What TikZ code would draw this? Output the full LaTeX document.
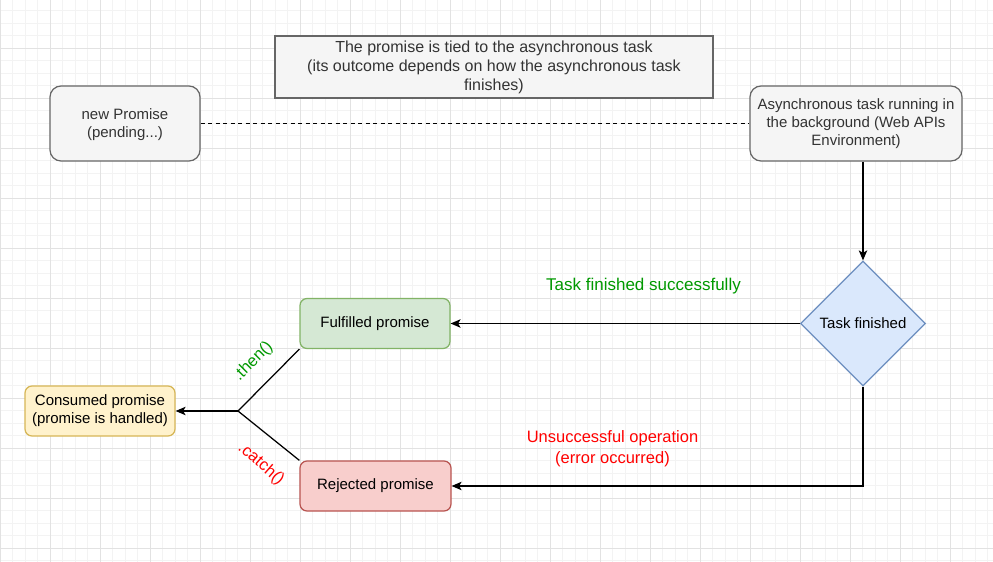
\documentclass[tikz,border=0pt]{standalone}
\usepackage{fontspec}
\setmainfont{Liberation Sans}
\usetikzlibrary{arrows.meta,shapes.geometric}
\definecolor{gbord}{HTML}{666666}
\definecolor{gfill}{HTML}{F5F5F5}
\definecolor{gtext}{HTML}{333333}
\definecolor{bfill}{HTML}{DAE8FC}
\definecolor{bbord}{HTML}{6C8EBF}
\definecolor{grfill}{HTML}{D5E8D4}
\definecolor{grbord}{HTML}{82B366}
\definecolor{rfill}{HTML}{F8CECC}
\definecolor{rbord}{HTML}{B85450}
\definecolor{yfill}{HTML}{FFF2CC}
\definecolor{ybord}{HTML}{D6B656}
\definecolor{okgreen}{HTML}{009900}
\definecolor{errred}{HTML}{FF0000}
\definecolor{minorgrid}{HTML}{F3F3F3}
\definecolor{majorgrid}{HTML}{E2E2E2}
\tikzset{
  basebox/.style={line width=1.25pt, align=center, inner sep=0pt,
    font=\fontsize{15}{18}\selectfont},
  graybox/.style={basebox, draw=gbord, fill=gfill, text=gtext, rounded corners=11pt},
  notebox/.style={basebox, draw=gbord, fill=gfill, text=gtext,
    font=\fontsize{16}{19}\selectfont},
  greenbox/.style={basebox, draw=grbord, fill=grfill, text=black, rounded corners=7pt},
  redbox/.style={basebox, draw=rbord, fill=rfill, text=black, rounded corners=7pt},
  yellowbox/.style={basebox, draw=ybord, fill=yfill, text=black, rounded corners=7pt},
  decision/.style={basebox, diamond, aspect=1, draw=bbord, fill=bfill, text=black},
  conn/.style={line width=1.25pt, draw=black},
  edge/.style={conn, -{Stealth[length=10pt,width=8.5pt,inset=2.5pt]}},
  lbl/.style={align=center, inner sep=0pt}
}
\begin{document}
\begin{tikzpicture}[x=1pt,y=-1pt]
\useasboundingbox (0,0) rectangle (993,562);
\fill[white] (0,0) rectangle (993,562);
% grid
\foreach \i in {0,...,80} {\draw[minorgrid, line width=0.7pt] (\i*12.5,0) -- (\i*12.5,562);}
\foreach \j in {0,...,46} {\draw[minorgrid, line width=0.7pt] (0,-1.7+\j*12.5) -- (993,-1.7+\j*12.5);}
\foreach \i in {0,...,20} {\draw[majorgrid, line width=0.7pt] (\i*50,0) -- (\i*50,562);}
\foreach \j in {0,...,12} {\draw[majorgrid, line width=0.7pt] (0,-1.7+\j*50) -- (993,-1.7+\j*50);}

% nodes
\node[notebox, minimum width=438pt, minimum height=62pt] (note) at (494,67)
  {The promise is tied to the asynchronous task\\(its outcome depends on how the asynchronous task\\finishes)};
\node[graybox, minimum width=150pt, minimum height=75pt] (np) at (125,123.5)
  {\strut new Promise\\(pending...)};
\node[graybox, minimum width=212pt, minimum height=75pt] (async) at (856,123.5)
  {Asynchronous task running in\\the background (Web APIs\\Environment)};
\node[decision, minimum width=125pt, minimum height=125pt] (dia) at (863,323.5) {Task finished};
\node[greenbox, minimum width=150pt, minimum height=50pt] (ful) at (375,323.5) {Fulfilled promise};
\node[redbox, minimum width=151pt, minimum height=50pt] (rej) at (375.5,486) {Rejected promise};
\node[yellowbox, minimum width=150pt, minimum height=50pt] (con) at (100,411) {Consumed promise\\(promise is handled)};
\coordinate (br) at (238,411);

% connectors
\draw[conn, dash pattern=on 4pt off 3.5pt] (np.east) -- (async.west);
\draw[edge] (dia.north |- async.south) -- (dia.north);
\draw[edge] (dia.west) -- (ful.east);
\draw[edge] (dia.south) |- (rej.east);
\draw[conn] (br) -- (ful.south west);
\draw[conn] (br) -- (rej.north west);
\draw[edge] (br) -- (con.east);

% labels
\node[lbl, text=okgreen, font=\fontsize{17}{20}\selectfont] (lok) at (643.5,286) {Task finished successfully};
\node[lbl, text=errred, font=\fontsize{16.5}{20.5}\selectfont] (lerr) at (612.5,448.5) {Unsuccessful operation\\(error occurred)};
\node[lbl, text=okgreen, font=\fontsize{16.5}{19}\selectfont, rotate=45] (lthen) at (253.5,361.5) {.then()};
\node[lbl, text=errred, font=\fontsize{16.5}{19}\selectfont, rotate=-41] (lcatch) at (261,464) {.catch()};
\end{tikzpicture}
\end{document}
